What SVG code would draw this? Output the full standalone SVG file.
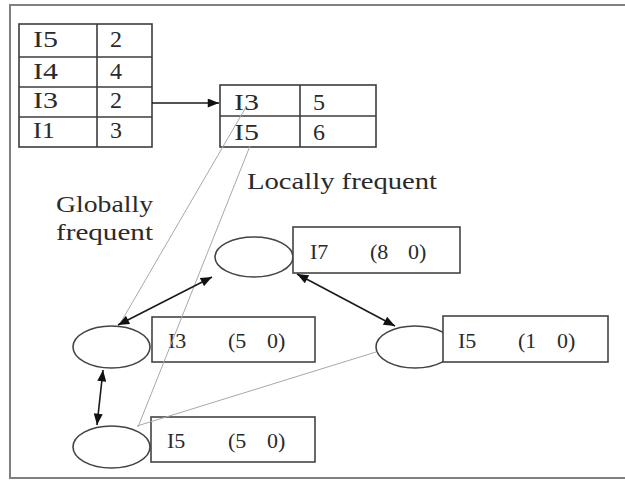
<svg xmlns="http://www.w3.org/2000/svg" width="625" height="480" viewBox="0 0 625 480">
  <style>
    .txt { font-family: "Liberation Serif", "Times New Roman", serif; fill: #2a2a2a; }
    .tbl { font-size: 24px; }
    .lbl { font-size: 22px; }
    .note { font-size: 24px; }
    .cell { fill: #ffffff; stroke: #3c3c3c; stroke-width: 1.6; }
    .node { fill: #ffffff; stroke: #444444; stroke-width: 1.6; }
    .arrow { stroke: #1a1a1a; stroke-width: 1.6; fill: none; }
    .link { stroke: #a8a8a8; stroke-width: 1; fill: none; }
  </style>
  <defs>
    <marker id="head" viewBox="0 0 10 8" refX="10" refY="4" markerWidth="12" markerHeight="9" markerUnits="userSpaceOnUse" orient="auto-start-reverse">
      <path d="M0,0 L10,4 L0,8 z" fill="#111111"/>
    </marker>
  </defs>

  <rect width="625" height="480" fill="#ffffff"/>
  <!-- outer frame -->
  <rect x="10" y="5" width="640" height="473" fill="none" stroke="#808080" stroke-width="2"/>

  <!-- global header table -->
  <g id="header-table">
    <rect class="cell" x="19" y="24" width="133" height="123"/>
    <line class="cell" x1="97" y1="24" x2="97" y2="147"/>
    <line class="cell" x1="19" y1="57" x2="152" y2="57"/>
    <line class="cell" x1="19" y1="87" x2="152" y2="87"/>
    <line class="cell" x1="19" y1="117" x2="152" y2="117"/>
    <text class="txt tbl" x="33" y="47" textLength="25" lengthAdjust="spacingAndGlyphs">I5</text>
    <text class="txt tbl" x="110" y="47">2</text>
    <text class="txt tbl" x="33" y="79" textLength="25" lengthAdjust="spacingAndGlyphs">I4</text>
    <text class="txt tbl" x="110" y="79">4</text>
    <text class="txt tbl" x="33" y="108" textLength="25" lengthAdjust="spacingAndGlyphs">I3</text>
    <text class="txt tbl" x="110" y="108">2</text>
    <text class="txt tbl" x="33" y="138" textLength="22" lengthAdjust="spacingAndGlyphs">I1</text>
    <text class="txt tbl" x="110" y="138">3</text>
  </g>

  <!-- conditional header table -->
  <g id="cond-table">
    <rect class="cell" x="220" y="85" width="156" height="62"/>
    <line class="cell" x1="300" y1="85" x2="300" y2="147"/>
    <line class="cell" x1="220" y1="116" x2="376" y2="116"/>
    <text class="txt tbl" x="234" y="110" textLength="25" lengthAdjust="spacingAndGlyphs">I3</text>
    <text class="txt tbl" x="313" y="110">5</text>
    <text class="txt tbl" x="234" y="140" textLength="25" lengthAdjust="spacingAndGlyphs">I5</text>
    <text class="txt tbl" x="313" y="140">6</text>
  </g>

  <!-- annotations -->
  <g id="annotations">
    <text class="txt note" x="247" y="189" textLength="190" lengthAdjust="spacingAndGlyphs">Locally frequent</text>
    <text class="txt note" x="56" y="212" textLength="97" lengthAdjust="spacingAndGlyphs">Globally</text>
    <text class="txt note" x="56" y="240" textLength="97" lengthAdjust="spacingAndGlyphs">frequent</text>
  </g>

  <!-- tree nodes -->
  <g id="node-i7">
    <ellipse class="node" cx="254" cy="257" rx="39" ry="20"/>
    <rect class="node" x="293" y="227" width="167" height="46"/>
    <text class="txt lbl"><tspan x="310" y="259">I7</tspan><tspan x="370" y="259">(8</tspan><tspan x="408" y="259">0)</tspan></text>
  </g>

  <g id="node-i3">
    <ellipse class="node" cx="111.5" cy="347" rx="38.5" ry="21"/>
    <rect class="node" x="152" y="317" width="163" height="45"/>
    <text class="txt lbl"><tspan x="168" y="348">I3</tspan><tspan x="228" y="348">(5</tspan><tspan x="267" y="348">0)</tspan></text>
  </g>

  <g id="node-i5-left">
    <ellipse class="node" cx="111.5" cy="447" rx="38.5" ry="21"/>
    <rect class="node" x="151" y="417" width="164" height="45"/>
    <text class="txt lbl"><tspan x="167" y="448">I5</tspan><tspan x="228" y="448">(5</tspan><tspan x="267" y="448">0)</tspan></text>
  </g>

  <g id="node-i5-right">
    <ellipse class="node" cx="415" cy="347" rx="39" ry="21"/>
    <rect class="node" x="443" y="316" width="165" height="46"/>
    <text class="txt lbl"><tspan x="458" y="348">I5</tspan><tspan x="518" y="348">(1</tspan><tspan x="557" y="348">0)</tspan></text>
  </g>

  <!-- connectors -->
  <g id="connectors">
    <line class="link" x1="246" y1="107" x2="121" y2="322"/>
    <line class="link" x1="250" y1="146" x2="138" y2="427"/>
    <line class="link" x1="137" y1="426" x2="376" y2="352"/>
    <line class="arrow" x1="152" y1="103" x2="219" y2="103" marker-end="url(#head)"/>
    <line class="arrow" x1="118" y1="325" x2="212" y2="277" marker-start="url(#head)" marker-end="url(#head)"/>
    <line class="arrow" x1="103" y1="370" x2="97" y2="425" marker-start="url(#head)" marker-end="url(#head)"/>
    <line class="arrow" x1="297" y1="274" x2="395" y2="326" marker-start="url(#head)" marker-end="url(#head)"/>
  </g>
</svg>
